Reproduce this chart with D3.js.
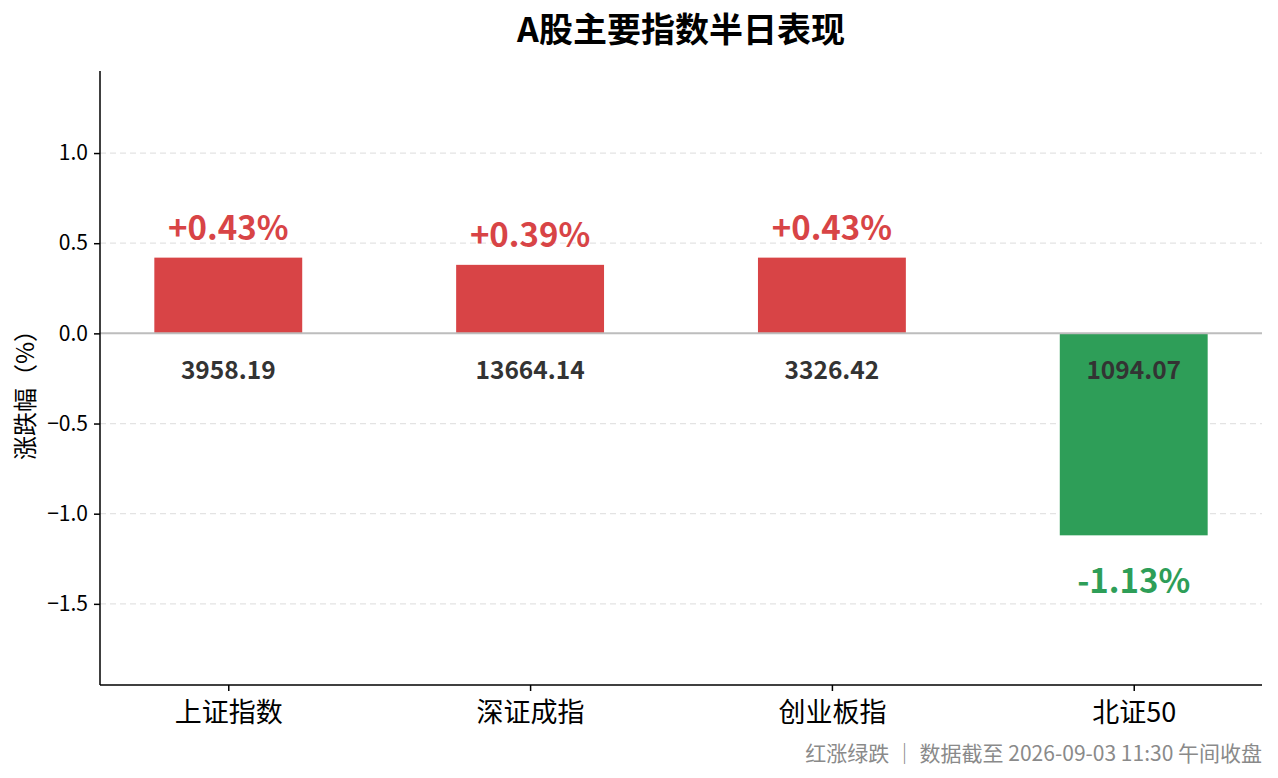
<!DOCTYPE html>
<html lang="zh">
<head>
    <meta charset="utf-8">
    <title>A股主要指数半日表现</title>
    <script src="https://cdn.jsdelivr.net/npm/d3@7"></script>
    <style type="text/css">
        body { margin: 0; background: #fff; }
        text { font-family: "Noto Sans CJK SC", "Noto Sans", sans-serif; }
        .axis path, .axis line { stroke: #000; stroke-width: 1.5; }
        .axis text { fill: #000; }
    </style>
</head>
<body>
<script type="text/javascript">

    // data
    var indices = ["上证指数", "深证成指", "创业板指", "北证50"];
    var changes = [0.42, 0.38, 0.42, -1.12];           // bar heights, %
    var changeText = ["+0.43%", "+0.39%", "+0.43%", "-1.13%"];
    var levels = ["3958.19", "13664.14", "3326.42", "1094.07"];
    var yTicks = [-1.5, -1.0, -0.5, 0.0, 0.5, 1.0];

    var w = 1278;
    var h = 778;
    var mLeft = 100, mRight = 1262, mTop = 71, mBottom = 685;
    var red = "#d84446";
    var green = "#2e9e58";

    var svg = d3.select("body")
        .append("svg")
        .attr("width", w)
        .attr("height", h);

    var x = d3.scaleLinear()
        .domain([-0.425, indices.length - 1 + 0.425])
        .range([mLeft, mRight]);

    var y = d3.scaleLinear()
        .domain([-1.95, 1.455])
        .range([mBottom, mTop]);

    var barW = 0.49;

    //Grid
    svg.append("g")
        .selectAll("line")
        .data(yTicks.filter(function (d) { return d !== 0; }))
        .enter()
        .append("line")
        .attr("x1", mLeft)
        .attr("x2", mRight)
        .attr("y1", function (d) { return y(d); })
        .attr("y2", function (d) { return y(d); })
        .attr("stroke", "#e3e3e3")
        .attr("stroke-width", 1.2)
        .attr("stroke-dasharray", "6,4");

    //Bars
    svg.append("g")
        .selectAll("rect")
        .data(changes)
        .enter()
        .append("rect")
        .attr("x", function (d, i) { return x(i - barW / 2); })
        .attr("width", x(barW) - x(0))
        .attr("y", function (d) { return y(Math.max(d, 0)); })
        .attr("height", function (d) { return Math.abs(y(d) - y(0)); })
        .attr("fill", function (d) { return d >= 0 ? red : green; });

    //Zero line
    svg.append("line")
        .attr("x1", mLeft)
        .attr("x2", mRight)
        .attr("y1", y(0))
        .attr("y2", y(0))
        .attr("stroke", "#bdbdbd")
        .attr("stroke-width", 2);

    //Change labels
    svg.append("g")
        .selectAll("text")
        .data(changes)
        .enter()
        .append("text")
        .attr("x", function (d, i) { return x(i); })
        .attr("y", function (d) { return d >= 0 ? y(d) - 18 : y(d) + 58; })
        .attr("text-anchor", "middle")
        .attr("font-size", 33)
        .attr("font-weight", "bold")
        .attr("fill", function (d) { return d >= 0 ? red : green; })
        .text(function (d, i) { return changeText[i]; });

    //Index levels
    svg.append("g")
        .selectAll("text")
        .data(levels)
        .enter()
        .append("text")
        .attr("x", function (d, i) { return x(i); })
        .attr("y", y(0) + 46)
        .attr("text-anchor", "middle")
        .attr("font-size", 24.5)
        .attr("font-weight", "bold")
        .attr("fill", "#333")
        .text(function (d) { return d; });

    //Axes
    var yAxis = d3.axisLeft(y)
        .tickValues(yTicks)
        .tickFormat(d3.format(".1f"))
        .tickSize(6)
        .tickPadding(6);

    var gy = svg.append("g")
        .attr("class", "axis")
        .attr("transform", "translate(" + mLeft + ",0)")
        .call(yAxis);
    gy.select(".domain").attr("d", "M0," + mTop + "V" + mBottom);
    gy.selectAll("text").attr("font-size", 21).attr("font-family", "Noto Sans CJK SC");

    var xAxis = d3.axisBottom(x)
        .tickValues(d3.range(indices.length))
        .tickFormat(function (d) { return indices[d]; })
        .tickSize(6)
        .tickPadding(12);

    var gx = svg.append("g")
        .attr("class", "axis")
        .attr("transform", "translate(0," + mBottom + ")")
        .call(xAxis);
    gx.select(".domain").attr("d", "M" + mLeft + ",0H" + mRight);
    gx.selectAll("text").attr("font-size", 27).attr("font-family", "Noto Sans CJK SC");

    //Y label
    svg.append("text")
        .attr("transform", "translate(34,389) rotate(-90)")
        .attr("text-anchor", "middle")
        .attr("font-size", 24)
        .attr("fill", "#000")
        .text("涨跌幅（%）");

    //Title
    svg.append("text")
        .attr("x", (mLeft + mRight) / 2)
        .attr("y", 42)
        .attr("text-anchor", "middle")
        .attr("font-size", 34)
        .attr("font-weight", "bold")
        .attr("fill", "#000")
        .text("A股主要指数半日表现");

    //Footnote
    svg.append("text")
        .attr("x", mRight)
        .attr("y", 761)
        .attr("text-anchor", "end")
        .attr("font-size", 21)
        .attr("fill", "#8a8a8a")
        .text("红涨绿跌 ｜ 数据截至 2026-09-03 11:30 午间收盘");

</script>
</body>
</html>
